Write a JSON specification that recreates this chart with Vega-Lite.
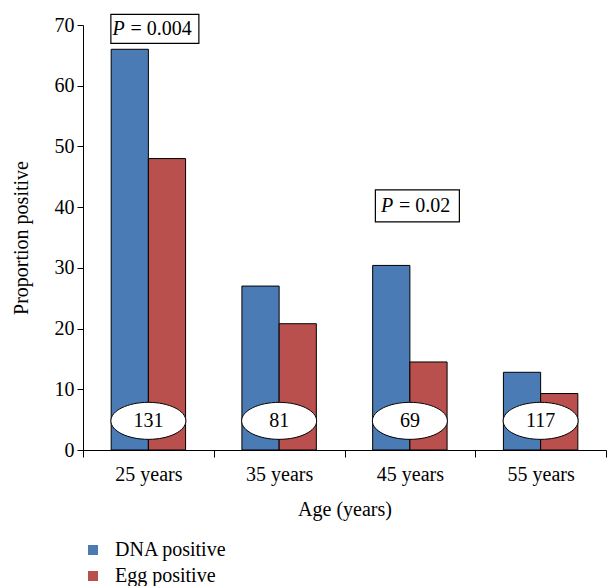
{
  "$schema": "https://vega.github.io/schema/vega-lite/v6.json",
  "width": 523,
  "height": 425,
  "autosize": {"type": "none"},
  "padding": {"left": 83, "top": 25, "right": 1, "bottom": 136},
  "background": "white",
  "config": {
    "view": {"stroke": null},
    "font": "Liberation Serif",
    "axis": {
      "grid": false,
      "domainColor": "black",
      "tickColor": "black",
      "labelColor": "black",
      "titleColor": "black",
      "labelFont": "Liberation Serif",
      "titleFont": "Liberation Serif",
      "labelFontSize": 20,
      "titleFontSize": 20,
      "titleFontWeight": "normal"
    },
    "legend": {
      "labelFont": "Liberation Serif",
      "labelFontSize": 20,
      "labelColor": "black"
    }
  },
  "layer": [
    {
      "data": {
        "values": [
          {"age": "25 years", "series": "DNA positive", "value": 66.0},
          {"age": "25 years", "series": "Egg positive", "value": 48.0},
          {"age": "35 years", "series": "DNA positive", "value": 27.0},
          {"age": "35 years", "series": "Egg positive", "value": 20.8},
          {"age": "45 years", "series": "DNA positive", "value": 30.4},
          {"age": "45 years", "series": "Egg positive", "value": 14.5},
          {"age": "55 years", "series": "DNA positive", "value": 12.8},
          {"age": "55 years", "series": "Egg positive", "value": 9.3}
        ]
      },
      "mark": {"type": "bar", "stroke": "black", "strokeWidth": 1},
      "encoding": {
        "x": {
          "field": "age",
          "type": "nominal",
          "title": "Age (years)",
          "scale": {"paddingInner": 0, "paddingOuter": 0},
          "axis": {
            "labelAngle": 0,
            "tickBand": "extent",
            "tickSize": 7,
            "labelPadding": 7,
            "titlePadding": 15
          }
        },
        "xOffset": {
          "field": "series",
          "type": "nominal",
          "scale": {"domain": ["DNA positive", "Egg positive"], "paddingInner": 0, "paddingOuter": 0.757}
        },
        "y": {
          "field": "value",
          "type": "quantitative",
          "title": "Proportion positive",
          "scale": {"domain": [0, 70], "nice": false},
          "axis": {
            "values": [0, 10, 20, 30, 40, 50, 60, 70],
            "tickSize": 6,
            "labelPadding": 3,
            "titlePadding": 23
          }
        },
        "color": {
          "field": "series",
          "type": "nominal",
          "scale": {"domain": ["DNA positive", "Egg positive"], "range": ["#4a7bb5", "#b9504d"]},
          "legend": {
            "title": null,
            "orient": "none",
            "legendX": 0,
            "legendY": 515,
            "symbolType": "square",
            "symbolSize": 100,
            "symbolStrokeWidth": 0,
            "symbolOpacity": 1,
            "labelOffset": 12,
            "rowPadding": 6
          }
        }
      }
    },
    {
      "data": {
        "values": [
          {"age": "25 years", "n": "131"},
          {"age": "35 years", "n": "81"},
          {"age": "45 years", "n": "69"},
          {"age": "55 years", "n": "117"}
        ]
      },
      "encoding": {
        "x": {"field": "age", "type": "nominal"},
        "y": {"datum": 4.8}
      },
      "layer": [
        {
          "mark": {
            "type": "point",
            "shape": "M -37.5 0 A 37.5 18.5 0 1 1 37.5 0 A 37.5 18.5 0 1 1 -37.5 0 Z",
            "size": 4,
            "filled": true,
            "fill": "white",
            "stroke": "black",
            "strokeWidth": 1,
            "opacity": 1
          }
        },
        {
          "mark": {"type": "text", "font": "Liberation Serif", "fontSize": 20, "color": "black", "baseline": "middle"},
          "encoding": {"text": {"field": "n"}}
        }
      ]
    },
    {
      "data": {"values": [{"age": "25 years", "p": "= 0.004"}]},
      "encoding": {
        "x": {"field": "age", "type": "nominal"},
        "y": {"datum": 69.35}
      },
      "layer": [
        {
          "mark": {
            "type": "point",
            "shape": "M -37.5 -14.5 H 50.5 V 14.5 H -37.5 Z",
            "size": 4,
            "filled": true,
            "fill": "white",
            "stroke": "black",
            "strokeWidth": 1.2,
            "opacity": 1
          }
        },
        {
          "mark": {"type": "text", "font": "Liberation Serif", "fontSize": 20, "fontStyle": "italic", "color": "black", "align": "left", "baseline": "middle", "dx": -36},
          "encoding": {"text": {"value": "P"}}
        },
        {
          "mark": {"type": "text", "font": "Liberation Serif", "fontSize": 20, "color": "black", "align": "left", "baseline": "middle", "dx": -18},
          "encoding": {"text": {"field": "p"}}
        }
      ]
    },
    {
      "data": {"values": [{"age": "45 years", "p": "= 0.02"}]},
      "encoding": {
        "x": {"field": "age", "type": "nominal"},
        "y": {"datum": 40.2}
      },
      "layer": [
        {
          "mark": {
            "type": "point",
            "shape": "M -34.5 -16 H 49.5 V 16 H -34.5 Z",
            "size": 4,
            "filled": true,
            "fill": "white",
            "stroke": "black",
            "strokeWidth": 1.2,
            "opacity": 1
          }
        },
        {
          "mark": {"type": "text", "font": "Liberation Serif", "fontSize": 20, "fontStyle": "italic", "color": "black", "align": "left", "baseline": "middle", "dx": -29},
          "encoding": {"text": {"value": "P"}}
        },
        {
          "mark": {"type": "text", "font": "Liberation Serif", "fontSize": 20, "color": "black", "align": "left", "baseline": "middle", "dx": -11},
          "encoding": {"text": {"field": "p"}}
        }
      ]
    }
  ]
}
